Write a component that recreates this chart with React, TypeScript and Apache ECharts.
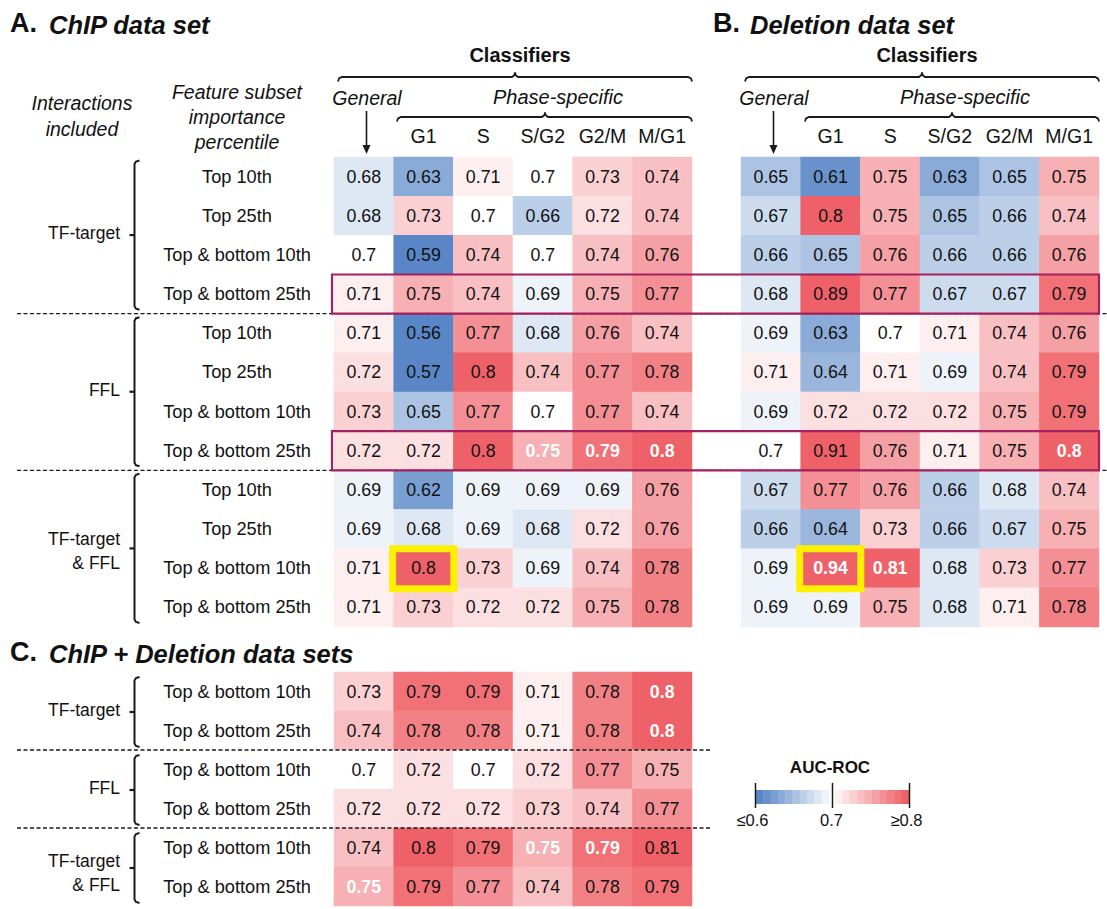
import React, { useEffect, useRef } from "react";
import * as echarts from "echarts";

const FONT = "'Liberation Sans', Arial, Helvetica, sans-serif";

const classifiers = ["General", "G1", "S", "S/G2", "G2/M", "M/G1"];

const rowLabelsAB = [
  "Top 10th", "Top 25th", "Top & bottom 10th", "Top & bottom 25th",
  "Top 10th", "Top 25th", "Top & bottom 10th", "Top & bottom 25th",
  "Top 10th", "Top 25th", "Top & bottom 10th", "Top & bottom 25th",
];
const rowLabelsC = [
  "Top & bottom 10th", "Top & bottom 25th",
  "Top & bottom 10th", "Top & bottom 25th",
  "Top & bottom 10th", "Top & bottom 25th",
];
const interactionGroups = ["TF-target", "FFL", "TF-target\n& FFL"];

// A. ChIP data set
const chipValues = [
  [0.68, 0.63, 0.71, 0.7, 0.73, 0.74],
  [0.68, 0.73, 0.7, 0.66, 0.72, 0.74],
  [0.7, 0.59, 0.74, 0.7, 0.74, 0.76],
  [0.71, 0.75, 0.74, 0.69, 0.75, 0.77],
  [0.71, 0.56, 0.77, 0.68, 0.76, 0.74],
  [0.72, 0.57, 0.8, 0.74, 0.77, 0.78],
  [0.73, 0.65, 0.77, 0.7, 0.77, 0.74],
  [0.72, 0.72, 0.8, 0.75, 0.79, 0.8],
  [0.69, 0.62, 0.69, 0.69, 0.69, 0.76],
  [0.69, 0.68, 0.69, 0.68, 0.72, 0.76],
  [0.71, 0.8, 0.73, 0.69, 0.74, 0.78],
  [0.71, 0.73, 0.72, 0.72, 0.75, 0.78],
];
// B. Deletion data set
const deletionValues = [
  [0.65, 0.61, 0.75, 0.63, 0.65, 0.75],
  [0.67, 0.8, 0.75, 0.65, 0.66, 0.74],
  [0.66, 0.65, 0.76, 0.66, 0.66, 0.76],
  [0.68, 0.89, 0.77, 0.67, 0.67, 0.79],
  [0.69, 0.63, 0.7, 0.71, 0.74, 0.76],
  [0.71, 0.64, 0.71, 0.69, 0.74, 0.79],
  [0.69, 0.72, 0.72, 0.72, 0.75, 0.79],
  [0.7, 0.91, 0.76, 0.71, 0.75, 0.8],
  [0.67, 0.77, 0.76, 0.66, 0.68, 0.74],
  [0.66, 0.64, 0.73, 0.66, 0.67, 0.75],
  [0.69, 0.94, 0.81, 0.68, 0.73, 0.77],
  [0.69, 0.69, 0.75, 0.68, 0.71, 0.78],
];
// C. ChIP + Deletion data sets
const combinedValues = [
  [0.73, 0.79, 0.79, 0.71, 0.78, 0.8],
  [0.74, 0.78, 0.78, 0.71, 0.78, 0.8],
  [0.7, 0.72, 0.7, 0.72, 0.77, 0.75],
  [0.72, 0.72, 0.72, 0.73, 0.74, 0.77],
  [0.74, 0.8, 0.79, 0.75, 0.79, 0.81],
  [0.75, 0.79, 0.77, 0.74, 0.78, 0.79],
];

// cells written in bold white [row, col]
const chipBold = [[7, 3], [7, 4], [7, 5]];
const deletionBold = [[7, 5], [10, 1], [10, 2]];
const combinedBold = [[0, 5], [1, 5], [4, 3], [4, 4], [5, 0]];

// highlighted rows (magenta) and cells (yellow)
const highlightRows = [3, 7];
const highlightCell = [10, 1];

const colorbarLabels = ["≤0.6", "0.7", "≥0.8"];
const scaleMin = 0.6;
const scaleMid = 0.7;
const scaleMax = 0.8;

const BLUE = "#5886C6";
const WHITE = "#FFFFFF";
const RED = "#EF6168";

// geometry
const GA = { left: 334, top: 157, width: 358, height: 470 };
const GB = { left: 741, top: 157, width: 358, height: 470 };
const GC = { left: 334, top: 672, width: 358, height: 234 };
const cellW = GA.width / 6;
const rowH = GA.height / 12;
const rowHC = GC.height / 6;

function hexToRgb(h: string) {
  const n = parseInt(h.slice(1), 16);
  return [(n >> 16) & 255, (n >> 8) & 255, n & 255];
}
function mix(a: string, b: string, t: number) {
  const A = hexToRgb(a), B = hexToRgb(b);
  const c = A.map((x, i) => Math.round(x + (B[i] - x) * t));
  return `rgb(${c[0]},${c[1]},${c[2]})`;
}
function colorFor(v: number) {
  if (v <= scaleMid) {
    const t = Math.max(0, (v - scaleMin) / (scaleMid - scaleMin));
    return mix(BLUE, WHITE, t);
  }
  const t = Math.min(1, (v - scaleMid) / (scaleMax - scaleMid));
  return mix(WHITE, RED, t);
}

function buildData(values: number[][], bold: number[][]) {
  const out: any[] = [];
  values.forEach((row, r) =>
    row.forEach((v, c) => {
      const b = bold.some(([br, bc]) => br === r && bc === c);
      out.push(
        b
          ? { value: [c, r, v], label: { color: "#ffffff", fontWeight: "bold" } }
          : [c, r, v]
      );
    })
  );
  return out;
}

function txt(text: string, x: number, y: number, opts: any = {}) {
  return {
    type: "text",
    z: 50,
    style: {
      text,
      x,
      y,
      fill: opts.fill || "#111111",
      fontFamily: FONT,
      fontSize: opts.fontSize || 17,
      fontWeight: opts.fontWeight || "normal",
      fontStyle: opts.fontStyle || "normal",
      textAlign: opts.align || "center",
      align: opts.align || "center",
      textVerticalAlign: "middle",
      verticalAlign: "middle",
      lineHeight: opts.lineHeight || 24,
    },
  };
}

function leftBrace(top: number, bottom: number) {
  const x = 134.5;
  const mid = (top + bottom) / 2;
  return [
    {
      type: "polyline",
      z: 50,
      shape: { points: [[139.5, top], [136, top + 1], [x, top + 3.5], [x, bottom - 3.5], [136, bottom - 1], [139.5, bottom]] },
      style: { fill: "none", stroke: "#1a1a1a", lineWidth: 2 },
    },
    {
      type: "line",
      z: 50,
      shape: { x1: x, y1: mid, x2: 129.5, y2: mid },
      style: { stroke: "#1a1a1a", lineWidth: 2.2 },
    },
  ];
}

function topBrace(x1: number, x2: number, xm: number, y: number) {
  return {
    type: "polyline",
    z: 50,
    shape: {
      points: [
        [x1, y + 4.5], [x1 + 1, y + 1.5], [x1 + 4, y], [xm - 3, y], [xm - 0.5, y - 2], [xm, y - 4.5],
        [xm + 0.5, y - 2], [xm + 3, y], [x2 - 4, y], [x2 - 1, y + 1.5], [x2, y + 4.5],
      ],
    },
    style: { fill: "none", stroke: "#1a1a1a", lineWidth: 1.8 },
  };
}

function arrowDown(x: number, y1: number, y2: number) {
  return [
    { type: "line", z: 50, shape: { x1: x, y1, x2: x, y2: y2 - 6 }, style: { stroke: "#1a1a1a", lineWidth: 1.6 } },
    { type: "polygon", z: 50, shape: { points: [[x - 4, y2 - 9], [x + 4, y2 - 9], [x, y2]] }, style: { fill: "#1a1a1a" } },
  ];
}

function dashed(x1: number, x2: number, y: number) {
  return {
    type: "line",
    z: 40,
    shape: { x1, y1: y, x2, y2: y },
    style: { stroke: "#1a1a1a", lineWidth: 1.3, lineDash: [4, 2.5] },
  };
}

function buildGraphics() {
  const g: any[] = [];
  // titles
  g.push(txt("A.", 10, 23, { fontSize: 27, fontWeight: "bold", align: "left" }));
  g.push(txt("ChIP data set", 49, 25, { fontSize: 25.5, fontWeight: "bold", fontStyle: "italic", align: "left" }));
  g.push(txt("B.", 713, 23, { fontSize: 27, fontWeight: "bold", align: "left" }));
  g.push(txt("Deletion data set", 750, 25, { fontSize: 25.5, fontWeight: "bold", fontStyle: "italic", align: "left" }));
  g.push(txt("C.", 10, 652, { fontSize: 27, fontWeight: "bold", align: "left" }));
  g.push(txt("ChIP + Deletion data sets", 49, 654, { fontSize: 25.5, fontWeight: "bold", fontStyle: "italic", align: "left" }));

  // left headers
  g.push(txt("Interactions\nincluded", 82, 116, { fontSize: 19.5, fontStyle: "italic", lineHeight: 26 }));
  g.push(txt("Feature subset\nimportance\npercentile", 237, 117, { fontSize: 19.5, fontStyle: "italic", lineHeight: 25 }));

  // classifier headers
  const heads = [
    { grid: GA, cls: 520, brace1: [338, 692, 515], gen: 367, phase: 558, brace2: [397, 692, 545] },
    { grid: GB, cls: 927, brace1: [745, 1099, 922], gen: 774, phase: 965, brace2: [805, 1099, 952] },
  ];
  heads.forEach((h) => {
    g.push(txt("Classifiers", h.cls, 55, { fontSize: 20, fontWeight: "bold" }));
    g.push(topBrace(h.brace1[0], h.brace1[1], h.brace1[2], 77));
    g.push(txt("General", h.gen, 98, { fontSize: 19.5, fontStyle: "italic" }));
    g.push(txt("Phase-specific", h.phase, 97, { fontSize: 20, fontStyle: "italic" }));
    g.push(topBrace(h.brace2[0], h.brace2[1], h.brace2[2], 117));
    arrowDown(h.gen - 0.5, 111, 154).forEach((e) => g.push(e));
  });

  // braces + group labels A
  interactionGroups.forEach((name, i) => {
    const top = GA.top + i * 4 * rowH + 3.5;
    const bottom = GA.top + (i + 1) * 4 * rowH - 4;
    leftBrace(top, bottom).forEach((e) => g.push(e));
    const mid = (top + bottom) / 2;
    g.push(txt(name, 120, name.includes("\n") ? mid + 3 : mid - 2, { fontSize: 17.5, align: "right" }));
  });
  // braces + group labels C
  interactionGroups.forEach((name, i) => {
    const top = GC.top + i * 2 * rowHC + 5;
    const bottom = GC.top + (i + 1) * 2 * rowHC - 3;
    leftBrace(top, bottom).forEach((e) => g.push(e));
    const mid = (top + bottom) / 2;
    g.push(txt(name, 120, name.includes("\n") ? mid + 5 : mid - 2, { fontSize: 17.5, align: "right" }));
  });

  // dashed separators
  [1, 2].forEach((i) => g.push(dashed(17, 1107, GA.top + i * 4 * rowH)));
  [1, 2].forEach((i) => g.push(dashed(17, 711, GC.top + i * 2 * rowHC)));

  // magenta row highlights across A and B
  highlightRows.forEach((r) => {
    g.push({
      type: "rect",
      z: 60,
      shape: { x: GA.left - 2, y: GA.top + r * rowH, width: GB.left + GB.width - GA.left + 2, height: rowH },
      style: { fill: "none", stroke: "#A4215F", lineWidth: 2.2 },
    });
  });
  // yellow cell highlights
  [GA, GB].forEach((gr) => {
    g.push({
      type: "rect",
      z: 60,
      shape: {
        x: gr.left + highlightCell[1] * cellW - 1,
        y: gr.top + highlightCell[0] * rowH,
        width: cellW + 1.5,
        height: rowH + 1,
      },
      style: { fill: "none", stroke: "#FFF000", lineWidth: 7 },
    });
  });

  // colour bar legend
  g.push(txt("AUC-ROC", 830, 767, { fontSize: 17, fontWeight: "bold" }));
  const steps = 10;
  const bx0 = 756, bx1 = 829, rx0 = 835, rx1 = 909;
  for (let i = 0; i < steps; i++) {
    const v = scaleMin + (i * (scaleMid - scaleMin)) / steps;
    const w = (bx1 - bx0) / steps;
    g.push({ type: "rect", z: 50, shape: { x: bx0 + i * w, y: 790, width: w + 0.4, height: 14 }, style: { fill: colorFor(v) } });
  }
  for (let i = 0; i < steps; i++) {
    const v = scaleMid + ((i + 1) * (scaleMax - scaleMid)) / steps;
    const w = (rx1 - rx0) / steps;
    g.push({ type: "rect", z: 50, shape: { x: rx0 + i * w, y: 790, width: w + 0.4, height: 14 }, style: { fill: colorFor(v) } });
  }
  const tickX = [755.5, 832.5, 909.5];
  tickX.forEach((x, i) => {
    g.push({ type: "line", z: 55, shape: { x1: x, y1: 783, x2: x, y2: 808 }, style: { stroke: "#1a1a1a", lineWidth: 1.5 } });
    g.push(txt(colorbarLabels[i], x - (i === 0 ? 3 : i === 2 ? 3 : 1), 820, { fontSize: 16.5 }));
  });
  return g;
}

function App() {
  const ref = useRef<HTMLDivElement>(null);
  useEffect(() => {
    document.body.style.margin = "0";
    if (!ref.current) return;
    const chart = echarts.init(ref.current, null, { renderer: "svg" });

    const grids = [GA, GB, GC];
    const labelStyle = { fontFamily: FONT, color: "#111111" };

    const xAxes = grids.map((gr, i) => ({
      gridIndex: i,
      type: "category",
      data: classifiers,
      position: "top",
      axisLine: { show: false },
      axisTick: { show: false },
      splitLine: { show: false },
      axisLabel: {
        show: i < 2,
        interval: 0,
        margin: 11,
        fontSize: 19.5,
        ...labelStyle,
        formatter: (v: string) => (v === "General" ? "" : v),
      },
    }));
    const yAxes = grids.map((gr, i) => {
      const labels = i === 2 ? rowLabelsC : rowLabelsAB;
      return {
        gridIndex: i,
        type: "category",
        inverse: true,
        data: labels.map((l, k) => `${k}:${l}`),
        axisLine: { show: false },
        axisTick: { show: false },
        splitLine: { show: false },
        axisLabel: {
          show: i !== 1,
          interval: 0,
          margin: 97,
          align: "center",
          fontSize: 18.2,
          ...labelStyle,
          formatter: (_v: string, idx: number) => labels[idx],
        },
      };
    });

    const datasets = [
      { values: chipValues, bold: chipBold },
      { values: deletionValues, bold: deletionBold },
      { values: combinedValues, bold: combinedBold },
    ];

    const series = datasets.map((d, i) => ({
      type: "heatmap",
      xAxisIndex: i,
      yAxisIndex: i,
      data: buildData(d.values, d.bold),
      itemStyle: { borderWidth: 0 },
      emphasis: { disabled: true },
      label: {
        show: true,
        fontSize: 17.8,
        fontFamily: FONT,
        color: "#111111",
        formatter: (p: any) => String(p.value[2]),
      },
    }));

    chart.setOption({
      animation: false,
      backgroundColor: "#ffffff",
      grid: grids.map((gr) => ({ left: gr.left, top: gr.top, width: gr.width, height: gr.height })),
      xAxis: xAxes,
      yAxis: yAxes,
      visualMap: {
        type: "continuous",
        show: false,
        seriesIndex: [0, 1, 2],
        dimension: 2,
        min: 0.5,
        max: 1.0,
        // flat below 0.6 and above 0.8 (colour scale saturates: ≤0.6, ≥0.8)
        inRange: { color: [BLUE, BLUE, WHITE, RED, RED, RED] },
      },
      series,
      graphic: buildGraphics(),
    } as any);

    return () => chart.dispose();
  }, []);
  return <div ref={ref} style={{ width: 1107, height: 909 }} />;
}

export default App;
